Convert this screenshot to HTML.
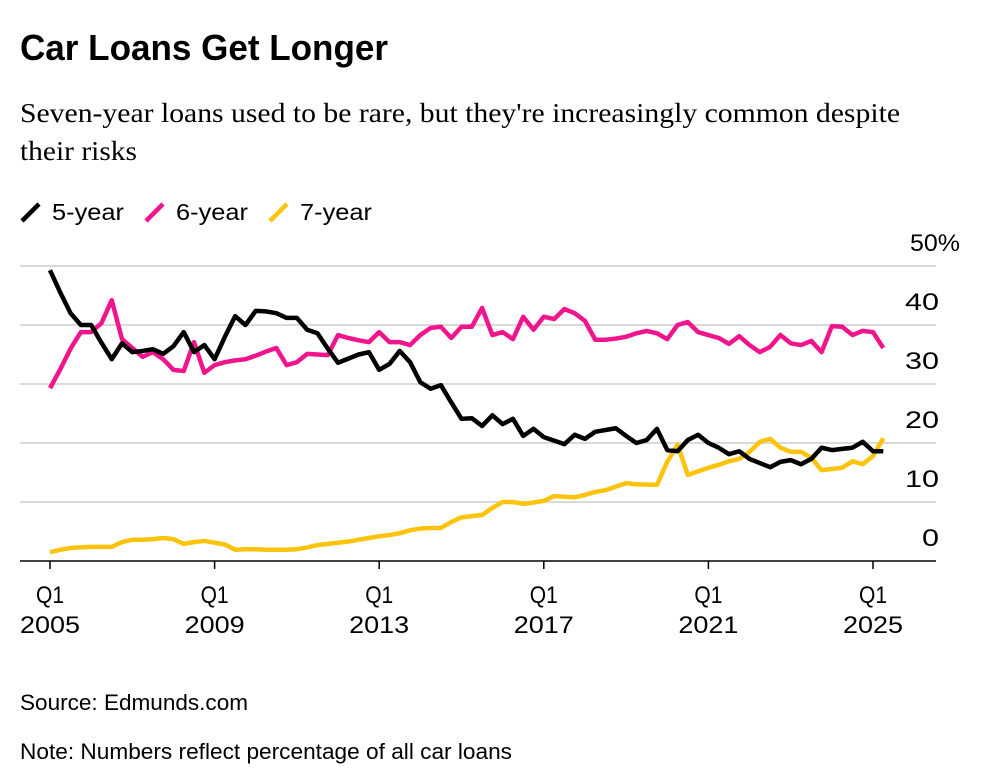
<!DOCTYPE html>
<html><head><meta charset="utf-8"><style>
body{margin:0;background:#fff;width:981px;height:774px;overflow:hidden;font-family:"Liberation Sans",Arial,sans-serif;color:#000}
</style></head><body>
<svg id="c" width="981" height="774" style="position:absolute;left:0;top:0">
<text x="20" y="60" font-size="36" font-weight="bold" textLength="368" lengthAdjust="spacingAndGlyphs">Car Loans Get Longer</text>
<text x="20" y="122" font-family="Liberation Serif, serif" font-size="27.5" textLength="880" lengthAdjust="spacingAndGlyphs">Seven-year loans used to be rare, but they're increasingly common despite</text>
<text x="20" y="160" font-family="Liberation Serif, serif" font-size="27.5" textLength="117" lengthAdjust="spacingAndGlyphs">their risks</text>
<text x="20" y="710" font-size="22" textLength="228" lengthAdjust="spacingAndGlyphs">Source: Edmunds.com</text>
<text x="20" y="759" font-size="22" textLength="492" lengthAdjust="spacingAndGlyphs">Note: Numbers reflect percentage of all car loans</text>
</svg>
<script>
const seriesNames=["5-year","6-year","7-year"];
const colors=["#000000","#f0158c","#fcc30b"];
const fiveYear=[49.3,45.5,42,40,40,37,34.2,36.9,35.4,35.6,35.9,35.1,36.4,38.8,35.4,36.6,34.2,38,41.5,40,42.4,42.3,42,41.2,41.2,39.2,38.6,36,33.6,34.3,35,35.4,32.4,33.4,35.6,33.7,30.3,29.2,29.8,26.9,24.1,24.2,22.9,24.7,23.2,24.1,21.2,22.4,21,20.4,19.8,21.4,20.7,21.9,22.2,22.5,21.2,20,20.5,22.4,18.8,18.6,20.5,21.4,20,19.2,18.1,18.6,17.3,16.6,15.9,16.8,17.1,16.4,17.3,19.2,18.8,19,19.2,20.2,18.6,18.6];
const sixYear=[29.3,32.5,36,38.8,38.8,40.3,44.2,37.6,36.1,34.6,35.4,34.2,32.4,32.2,37.1,31.9,33.2,33.7,34,34.2,34.8,35.5,36.1,33.2,33.7,35.1,35,34.9,38.3,37.8,37.4,37.1,38.8,37.1,37.1,36.6,38.3,39.5,39.7,37.8,39.7,39.7,42.9,38.3,38.8,37.6,41.4,39.2,41.4,41,42.7,42,40.7,37.5,37.5,37.7,38,38.6,39,38.6,37.6,40,40.5,38.8,38.3,37.8,36.8,38.1,36.6,35.4,36.3,38.3,36.9,36.6,37.3,35.4,39.8,39.7,38.3,39,38.8,36.1];
const sevenYear=[1.5,1.9,2.2,2.3,2.4,2.4,2.4,3.2,3.6,3.6,3.7,3.9,3.7,2.9,3.2,3.4,3.1,2.8,1.9,2,2,1.9,1.9,1.9,2,2.3,2.7,2.9,3.1,3.3,3.6,3.9,4.2,4.4,4.7,5.2,5.5,5.6,5.6,6.6,7.4,7.6,7.8,9,10,10,9.7,9.9,10.2,11,10.9,10.8,11.2,11.7,12,12.6,13.2,13,12.95,12.9,16.8,19.7,14.6,15.2,15.8,16.3,16.9,17.3,18.5,20.2,20.7,19.2,18.5,18.5,17.5,15.4,15.6,15.8,16.9,16.4,17.8,20.8];
const yTicks=[0,10,20,30,40,50];
const yTickLabels=["0","10","20","30","40","50%"];
const xTickYears=[2005,2009,2013,2017,2021,2025];
const startYear=2005;
const NS="http://www.w3.org/2000/svg";
const svg=document.getElementById('c');
const xs=q=>50+q*(823/80);
const ys=v=>561-v*5.9;
const xYear=y=>xs((y-startYear)*4);
function mk(t,a){const e=document.createElementNS(NS,t);for(const k in a)e.setAttribute(k,a[k]);svg.appendChild(e);return e;}
yTicks.forEach((v,i)=>{
  if(v>0){const g=mk('line',{x1:20,x2:936,y1:ys(v),y2:ys(v),stroke:'#d9d9d9','stroke-width':2});
  
  }
  const lab=yTickLabels[i];
  const w=lab.length===1?17:(lab.length===2?34:50);
  const right=(v===50)?960:939;
  const t=mk('text',{x:right-w,y:ys(v)-15,'font-size':24,textLength:w,lengthAdjust:'spacingAndGlyphs'});
  t.textContent=lab;
  
  
});
const ax=mk('line',{x1:20,x2:936,y1:561,y2:561,stroke:'#000','stroke-width':1.5});


xTickYears.forEach(y=>{
  const x=xYear(y);
  const tk=mk('line',{x1:x,x2:x,y1:561,y2:569,stroke:'#000','stroke-width':1.5});
  
  
  const a=mk('text',{x:x-14,y:603,'font-size':24,textLength:28,lengthAdjust:'spacingAndGlyphs'});a.textContent='Q1';
  
  
  const b=mk('text',{x:x-30,y:633,'font-size':24,textLength:60,lengthAdjust:'spacingAndGlyphs'});b.textContent=String(y);
  
  
});
const order=[2,1,0];const data=[fiveYear,sixYear,sevenYear];
order.forEach(si=>{
  const p=mk('polyline',{points:data[si].map((v,i)=>xs(i)+','+ys(v)).join(' '),fill:'none',stroke:colors[si],'stroke-width':4.5,'stroke-linejoin':'round'});
  
  
});
const legX=[20,144,268];
seriesNames.forEach((n,i)=>{
  const l=mk('line',{x1:legX[i]+2,y1:221,x2:legX[i]+19,y2:204,stroke:colors[i],'stroke-width':4.5});
  
  
  const t=mk('text',{x:legX[i]+32,y:220,'font-size':23,textLength:72,lengthAdjust:'spacingAndGlyphs'});t.textContent=n;
  
  
});
</script>
</body></html>
